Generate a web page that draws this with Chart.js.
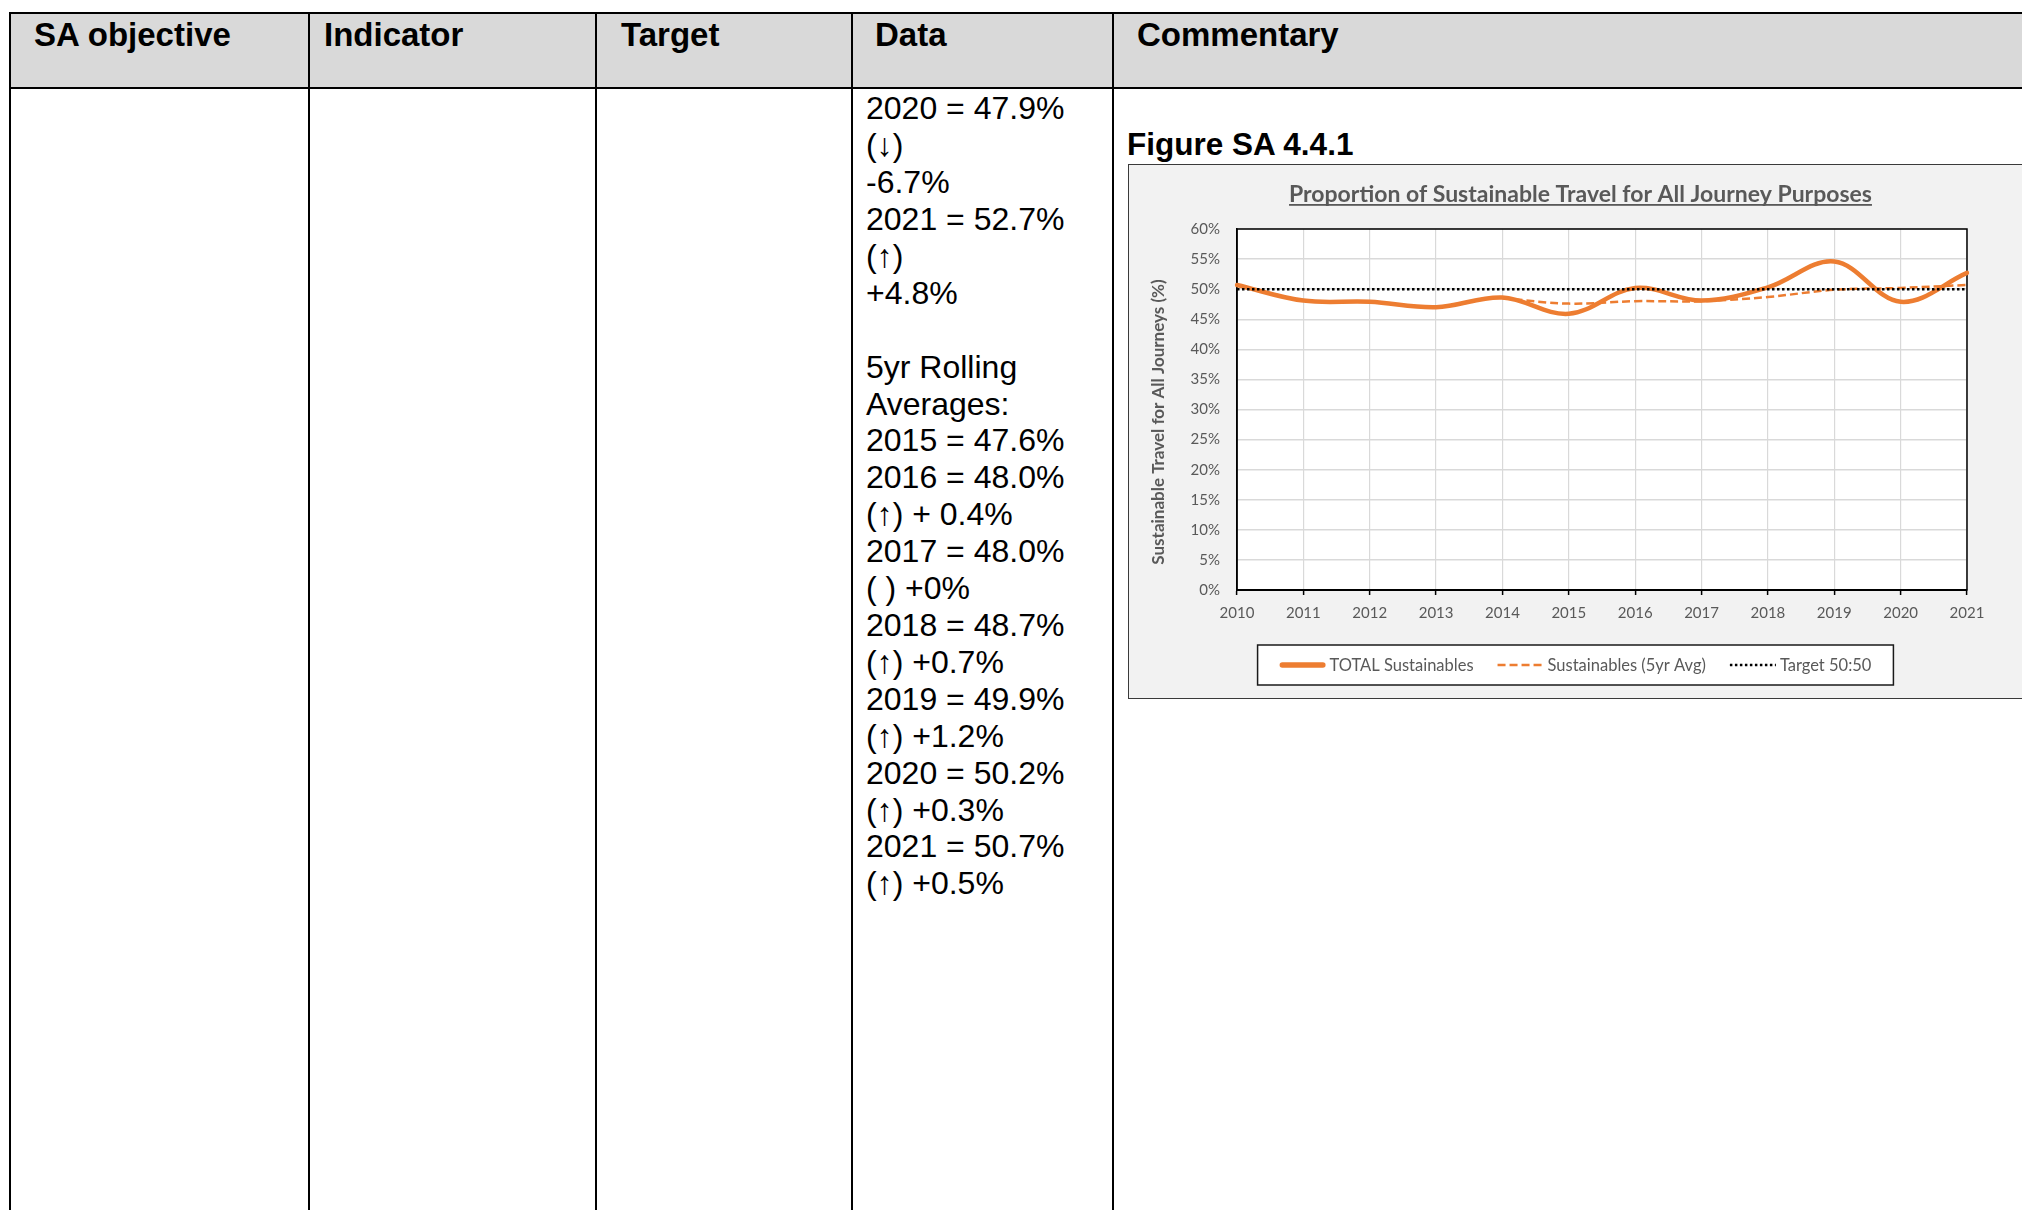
<!DOCTYPE html>
<html>
<head>
<meta charset="utf-8">
<script src="https://cdn.jsdelivr.net/npm/chart.js@4.4.1/dist/chart.umd.min.js"></script>
<style>
    html, body { margin: 0; padding: 0; background: #fff; }
    body { width: 2022px; height: 1210px; overflow: hidden; position: relative; font-family: "Liberation Sans", Arial, sans-serif; color: #000; }
    .line { position: absolute; background: #000; }
    .head-bg { position: absolute; left: 10px; top: 13px; width: 2012px; height: 75px; background: #d9d9d9; }
    .th { position: absolute; top: 17.6px; font-size: 33px; line-height: 33px; font-weight: bold; white-space: nowrap; }
    .data { position: absolute; left: 866px; top: 90.3px; font-size: 32px; line-height: 36.9px; white-space: pre; }
    .fig { position: absolute; left: 1127px; top: 129px; font-size: 31.5px; line-height: 31.5px; font-weight: bold; white-space: nowrap; }
    .chart-box { position: absolute; left: 1128px; top: 164px; width: 900px; height: 535px; background: #f2f2f2; border: 1px solid #3a3a3a; box-sizing: border-box; }
    #chart { position: absolute; left: 1129px; top: 165px; }
</style>
</head>
<body>
<div class="head-bg"></div>
<div class="line" style="left:9px; top:12px; width:2013px; height:2px;"></div>
<div class="line" style="left:9px; top:87px; width:2013px; height:2px;"></div>
<div class="line" style="left:9px; top:12px; width:2px; height:1198px;"></div>
<div class="line" style="left:308px; top:12px; width:2px; height:1198px;"></div>
<div class="line" style="left:595px; top:12px; width:2px; height:1198px;"></div>
<div class="line" style="left:851px; top:12px; width:2px; height:1198px;"></div>
<div class="line" style="left:1112px; top:12px; width:2px; height:1198px;"></div>

<div class="th" style="left:34px;">SA objective</div>
<div class="th" style="left:324px;">Indicator</div>
<div class="th" style="left:621px;">Target</div>
<div class="th" style="left:875px;">Data</div>
<div class="th" style="left:1137px;">Commentary</div>

<div class="data">2020 = 47.9%
(↓)
-6.7%
2021 = 52.7%
(↑)
+4.8%

5yr Rolling
Averages:
2015 = 47.6%
2016 = 48.0%
(↑) + 0.4%
2017 = 48.0%
( ) +0%
2018 = 48.7%
(↑) +0.7%
2019 = 49.9%
(↑) +1.2%
2020 = 50.2%
(↑) +0.3%
2021 = 50.7%
(↑) +0.5%</div>

<div class="fig">Figure SA 4.4.1</div>
<div class="chart-box"></div>
<canvas id="chart" width="893" height="532"></canvas>

<script>
const years = ['2010', '2011', '2012', '2013', '2014', '2015', '2016', '2017', '2018', '2019', '2020', '2021'];
const totalSustainables = [50.7, 48.1, 47.9, 47.0, 48.6, 45.9, 50.2, 48.1, 50.3, 54.6, 47.9, 52.7];
const rollingAverage = [null, null, null, null, 48.5, 47.6, 48.0, 48.0, 48.7, 49.9, 50.2, 50.7];
const target = [50, 50, 50, 50, 50, 50, 50, 50, 50, 50, 50, 50];
const yTickValues = [0, 5, 10, 15, 20, 25, 30, 35, 40, 45, 50, 55, 60];

const chartTitle = 'Proportion of Sustainable Travel for All Journey Purposes';
const yAxisTitle = 'Sustainable Travel for All Journeys (%)';
const seriesNames = ['TOTAL Sustainables', 'Sustainables (5yr Avg)', 'Target 50:50'];

const orange = '#ED7D31';
const greyText = '#595959';

// white plot area + black frame, then title, axis title and boxed legend
const framePlugin = {
    id: 'frame',
    beforeDraw(chart) {
        const { ctx, chartArea: a } = chart;
        ctx.save();
        ctx.fillStyle = '#fff';
        ctx.fillRect(a.left, a.top, a.right - a.left, a.bottom - a.top);
        ctx.restore();
    },
    beforeDatasetsDraw(chart) {
        const { ctx, chartArea: a } = chart;
        ctx.save();
        ctx.strokeStyle = '#000';
        ctx.lineWidth = 1.5;
        ctx.strokeRect(a.left, a.top, a.right - a.left, a.bottom - a.top);
        ctx.restore();
    },
    afterDraw(chart) {
        const ctx = chart.ctx;
        const w = chart.width;
        ctx.save();

        // title, underlined
        ctx.font = 'bold 23px Lato';
        ctx.fillStyle = greyText;
        ctx.textAlign = 'center';
        ctx.textBaseline = 'alphabetic';
        const tx = w / 2 + 5;
        ctx.fillText(chartTitle, tx, 37);
        const tw = ctx.measureText(chartTitle).width;
        ctx.fillRect(tx - tw / 2, 39, tw, 1.8);

        // y axis title
        ctx.save();
        ctx.translate(30, 257);
        ctx.rotate(-Math.PI / 2);
        ctx.font = 'bold 17px Lato';
        ctx.textBaseline = 'middle';
        ctx.fillText(yAxisTitle, 0, 0);
        ctx.restore();

        // legend
        ctx.font = '16.5px Lato';
        ctx.textAlign = 'left';
        ctx.textBaseline = 'middle';
        const lineLen = 46, textGap = 4, itemGap = 24, pad = 22;
        const items = chart.data.datasets.map(ds => ({
            ds, tw: ctx.measureText(ds.label).width
        }));
        let total = 0;
        items.forEach((it, i) => { total += lineLen + textGap + it.tw + (i ? itemGap : 0); });
        const boxW = total + pad * 2;
        const boxL = (w - boxW) / 2;
        const boxT = 480, boxH = 40, cy = boxT + boxH / 2;
        ctx.fillStyle = '#fff';
        ctx.fillRect(boxL, boxT, boxW, boxH);
        ctx.strokeStyle = '#1a1a1a';
        ctx.lineWidth = 1.5;
        ctx.strokeRect(boxL, boxT, boxW, boxH);

        let x = boxL + pad;
        items.forEach((it, i) => {
            if (i) x += itemGap;
            const ds = it.ds;
            ctx.beginPath();
            ctx.setLineDash(ds.borderDash || []);
            ctx.lineCap = ds.borderCapStyle || 'butt';
            ctx.lineWidth = i === 0 ? 5.5 : ds.borderWidth;
            ctx.strokeStyle = ds.borderColor;
            const inset = ctx.lineCap === 'round' ? 2.75 : 0;
            ctx.moveTo(x + inset, cy);
            ctx.lineTo(x + lineLen - inset, cy);
            ctx.stroke();
            ctx.setLineDash([]);
            x += lineLen + textGap;
            ctx.fillStyle = greyText;
            ctx.fillText(ds.label, x, cy + 1);
            x += it.tw;
        });
        ctx.restore();
    }
};

function drawChart() {
    const ctx = document.getElementById('chart').getContext('2d');
    new Chart(ctx, {
        type: 'line',
        data: {
            labels: years,
            datasets: [
                {
                    label: seriesNames[0],
                    data: totalSustainables,
                    borderColor: orange,
                    borderWidth: 4.5,
                    borderCapStyle: 'round',
                    tension: 0.36,
                    pointRadius: 0,
                    fill: false,
                    order: 3
                },
                {
                    label: seriesNames[1],
                    data: rollingAverage,
                    borderColor: orange,
                    borderWidth: 2.5,
                    borderDash: [8, 4],
                    tension: 0.36,
                    pointRadius: 0,
                    fill: false,
                    order: 2
                },
                {
                    label: seriesNames[2],
                    data: target,
                    borderColor: '#000',
                    borderWidth: 2.5,
                    borderDash: [2.5, 2.5],
                    tension: 0,
                    pointRadius: 0,
                    fill: false,
                    order: 1
                }
            ]
        },
        options: {
            responsive: false,
            maintainAspectRatio: false,
            animation: false,
            layout: { padding: { top: 64, right: 55, bottom: 0, left: 0 } },
            plugins: {
                legend: { display: false },
                title: { display: false },
                tooltip: { enabled: false }
            },
            scales: {
                x: {
                    offset: false,
                    afterFit(scale) { scale.height = 107; },
                    grid: {
                        color: '#d9d9d9',
                        lineWidth: 1.2,
                        borderDash: [5, 4],
                        drawTicks: true,
                        tickLength: 5,
                        tickColor: '#000',
                        tickWidth: 1.5,
                        tickBorderDash: []
                    },
                    border: { display: true, color: '#000', width: 2 },
                    ticks: {
                        color: greyText,
                        font: { family: 'Lato', size: 15 },
                        padding: 9,
                        maxRotation: 0,
                        autoSkip: false
                    }
                },
                y: {
                    min: 0,
                    max: 60,
                    afterFit(scale) { scale.width = 108; },
                    afterBuildTicks(scale) { scale.ticks = yTickValues.map(v => ({ value: v })); },
                    grid: { color: '#d9d9d9', lineWidth: 1.5, drawTicks: false },
                    border: { display: true, color: '#000', width: 1.5 },
                    ticks: {
                        color: greyText,
                        font: { family: 'Lato', size: 15 },
                        padding: 17,
                        callback: v => v + '%'
                    }
                }
            }
        },
        plugins: [framePlugin]
    });
}

Promise.all([
    document.fonts.load('15px Lato'),
    document.fonts.load('bold 15px Lato')
]).then(drawChart, drawChart);
</script>
</body>
</html>
